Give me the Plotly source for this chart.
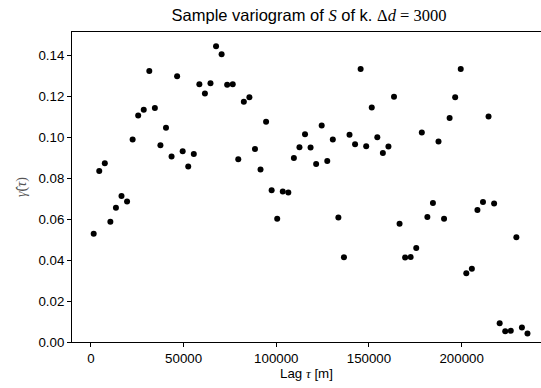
import plotly.graph_objects as go

lags = [1500, 4500, 7500, 10500, 13500, 16500, 19500, 22500, 25500, 28500,
        31500, 34500, 37500, 40500, 43500, 46500, 49500, 52500, 55500, 58500,
        61500, 64500, 67500, 70500, 73500, 76500, 79500, 82500, 85500, 88500,
        91500, 94500, 97500, 100500, 103500, 106500, 109500, 112500, 115500, 118500,
        121500, 124500, 127500, 130500, 133500, 136500, 139500, 142500, 145500, 148500,
        151500, 154500, 157500, 160500, 163500, 166500, 169500, 172500, 175500, 178500,
        181500, 184500, 187500, 190500, 193500, 196500, 199500, 202500, 205500, 208500,
        211500, 214500, 217500, 220500, 223500, 226500, 229500, 232500, 235500]
gamma = [0.0528, 0.0834, 0.0872, 0.0587, 0.0655, 0.0713, 0.0686, 0.0988, 0.1105, 0.1134,
         0.1323, 0.1142, 0.0960, 0.1046, 0.0905, 0.1297, 0.0931, 0.0856, 0.0918, 0.1258,
         0.1213, 0.1263, 0.1443, 0.1404, 0.1255, 0.1258, 0.0892, 0.1173, 0.1195, 0.0942,
         0.0842, 0.1075, 0.0741, 0.0601, 0.0735, 0.0730, 0.0898, 0.0950, 0.1014, 0.0949,
         0.0869, 0.1057, 0.0884, 0.0988, 0.0608, 0.0414, 0.1012, 0.0965, 0.1333, 0.0955,
         0.1145, 0.0999, 0.0923, 0.0954, 0.1197, 0.0577, 0.0412, 0.0415, 0.0459, 0.1022,
         0.0610, 0.0678, 0.0978, 0.0602, 0.1093, 0.1194, 0.1333, 0.0336, 0.0358, 0.0644,
         0.0683, 0.1101, 0.0676, 0.0092, 0.0052, 0.0055, 0.0511, 0.0071, 0.0042]

x_ticks = [0, 50000, 100000, 150000, 200000]
y_ticks = [0.00, 0.02, 0.04, 0.06, 0.08, 0.10, 0.12, 0.14]

SERIF = "style='font-family:Liberation Serif'"

fig = go.Figure(go.Scatter(
    x=lags, y=gamma, mode="markers",
    marker=dict(color="black", size=6, line=dict(width=0)),
))

fig.update_layout(
    width=541, height=388,
    margin=dict(l=72, r=0, t=32, b=46),
    paper_bgcolor="white", plot_bgcolor="white",
    font=dict(family="Liberation Sans, Arial", size=13.3, color="black"),
    showlegend=False,
    title=dict(
        text=f"Sample variogram of <span {SERIF}><i>S</i></span> of k. <span {SERIF}>Δ<i>d</i> = 3000</span>",
        x=309 / 541, xref="container", xanchor="center",
        y=1 - 15 / 388, yref="container", yanchor="middle",
        font=dict(size=16.5, color="black"),
    ),
    xaxis=dict(
        range=[-10200, 242800],
        tickvals=x_ticks, ticktext=[str(v) for v in x_ticks],
        ticks="outside", ticklen=4, tickwidth=1, tickcolor="black",
        showline=True, linecolor="black", linewidth=1, mirror=True,
        showgrid=False, zeroline=False,
        tickfont=dict(size=13.3),
        title=dict(text=f"Lag <span {SERIF}><i>τ</i></span> [m]", font=dict(size=13.3), standoff=3),
    ),
    yaxis=dict(
        range=[0, 0.1513],
        tickvals=y_ticks, ticktext=[f"{v:.2f}" for v in y_ticks],
        ticks="outside", ticklen=4, tickwidth=1, tickcolor="black",
        showline=True, linecolor="black", linewidth=1, mirror=False,
        showgrid=False, zeroline=False,
        tickfont=dict(size=13.3),
        title=dict(text=f"<span {SERIF}><i>γ̂</i>(<i>τ</i>)</span>", font=dict(size=14, color="#555555"), standoff=8),
    ),
)

fig.write_html("out.html")
